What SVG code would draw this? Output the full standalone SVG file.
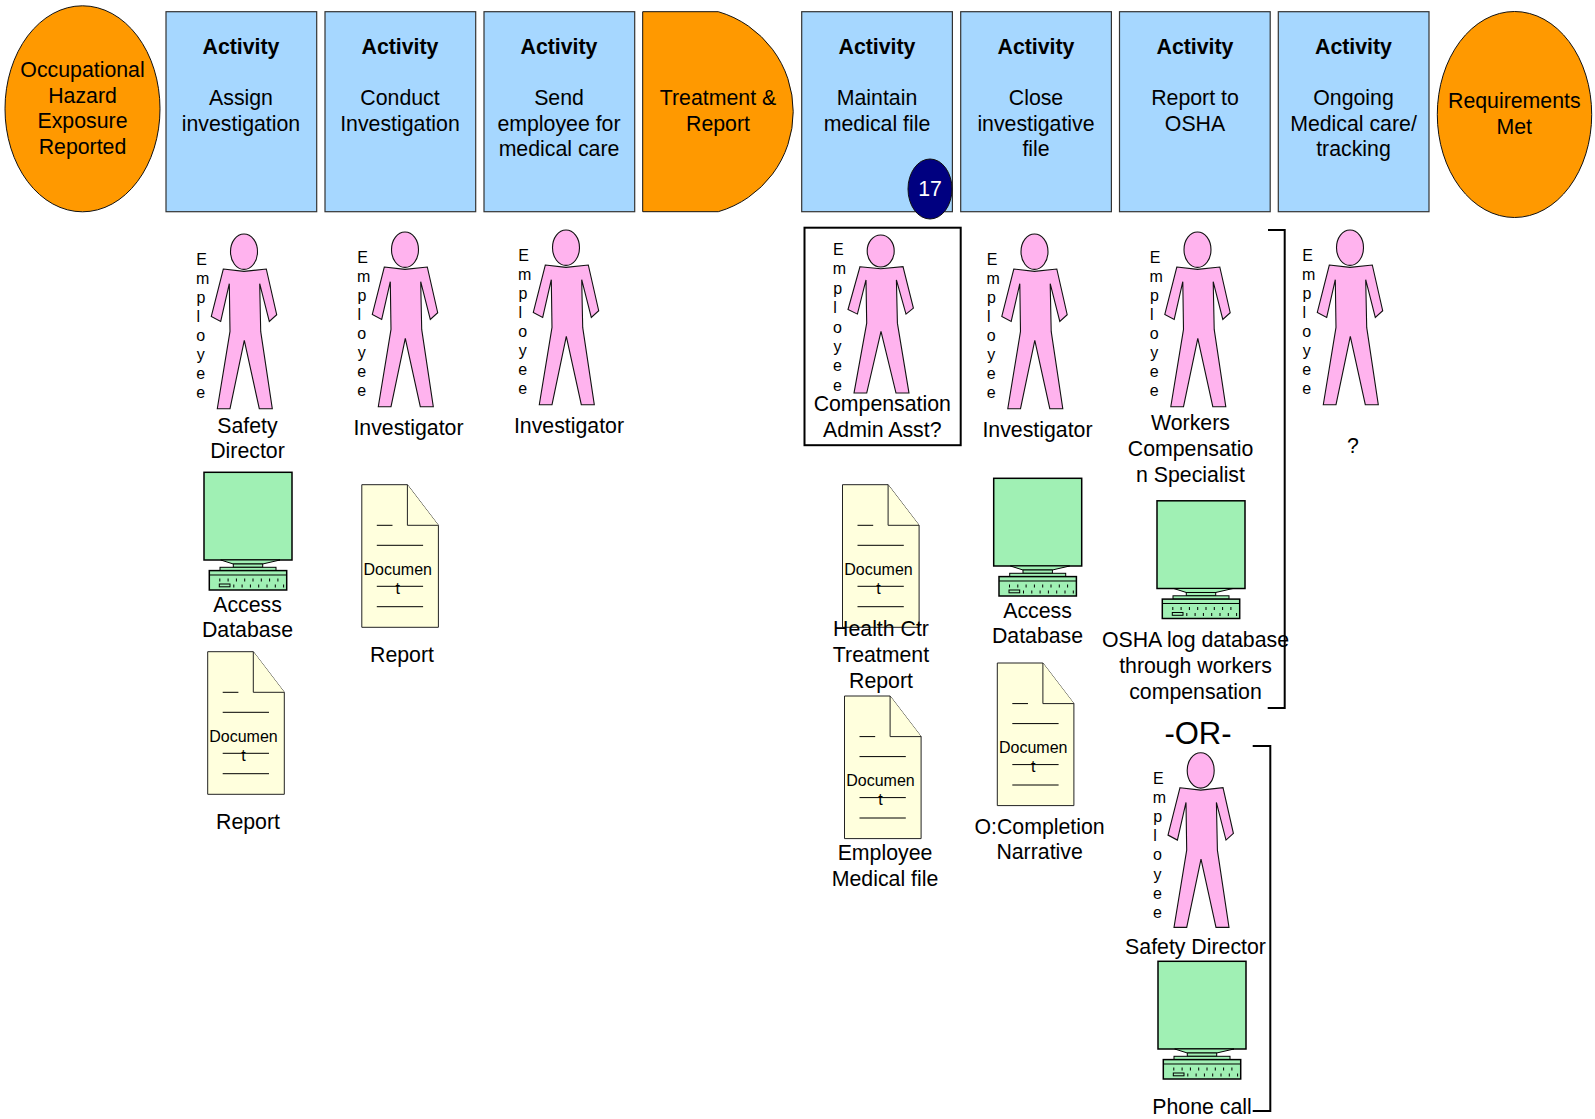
<svg xmlns="http://www.w3.org/2000/svg" xmlns:xlink="http://www.w3.org/1999/xlink" width="1595" height="1119" viewBox="0 0 1595 1119">
<style>
text{font-family:"Liberation Sans",Arial,sans-serif;font-size:21.3px;fill:#000;text-anchor:middle}
.b{font-weight:bold}
.act{fill:#A6D7FF;stroke:#333;stroke-width:1.2}
.org{fill:#FF9900;stroke:#111;stroke-width:1}
.emp{font-size:16px}
.docl{font-size:16px}
.pf{fill:#FFB3EE;stroke:#111;stroke-width:1.1}
.cf{fill:#A0F0B4;stroke:#000;stroke-width:1.5}
.cf2{fill:#A0F0B4;stroke:#000;stroke-width:1}
.df{fill:#FFFFDD;stroke:#222;stroke-width:1}
.ln{fill:none;stroke:#000;stroke-width:1}
.kb{fill:none;stroke:#000;stroke-width:3;stroke-dasharray:1 7.3}
.br{fill:none;stroke:#000;stroke-width:2}
</style>
<defs>
<g id="person">
<ellipse class="pf" cx="0" cy="0" rx="13.5" ry="17.7"/>
<path class="pf" d="M-20.7 17.3L0 19.7L22.3 17.3L32.7 63L25.3 69.7L15.7 32L16.7 79.7L28.3 157L15.3 157L0.3 88.7L-14 157L-26.7 157L-14 79.7L-14.7 32L-23.3 69.7L-32.7 64.7Z"/>
</g>
<g id="doc">
<path class="df" d="M0 0H45.6L76.6 40.6V142.6H0Z"/>
<path class="df" d="M45.6 0V40.6H76.6"/>
<path class="ln" d="M15 40.6H30.7M15 60.6H61.3M15 101.6H61.3M15 122H61.3"/>
</g>
<g id="computer">
<rect class="cf" x="0" y="0" width="88" height="87.7"/>
<path class="cf2" d="M16.7 87.7H76L58.7 91.7H29.3Z"/>
<rect class="cf2" x="29.3" y="91.7" width="29.4" height="3.3"/>
<rect class="cf2" x="16" y="95" width="56" height="3.3"/>
<rect class="cf" x="5.3" y="98.3" width="77.4" height="19.4"/>
<path class="ln" d="M5.3 102.7H82.7"/>
<path class="kb" d="M15.3 107.7H80M29.3 113.7H82"/>
<rect class="cf2" x="15.3" y="111.7" width="10.7" height="2.8"/>
</g>
</defs>

<g id="connectors">
<path class="br" d="M1268 230H1284.7V708H1267.7"/>
<path class="br" d="M1252.7 746H1270.3V1111H1252.7"/>
</g>

<g id="start"><ellipse class="org" cx="82.5" cy="108.8" rx="77.5" ry="103"/>
<text x="82.5" y="77.3">Occupational</text><text x="82.5" y="103">Hazard</text><text x="82.5" y="128.2">Exposure</text><text x="82.5" y="153.7">Reported</text></g>

<g id="act1"><rect class="act" x="166" y="11.7" width="150.7" height="200"/>
<text class="b" x="241" y="54">Activity</text><text x="241" y="105">Assign</text><text x="241" y="130.7">investigation</text></g>
<g id="act2"><rect class="act" x="325" y="11.7" width="150.7" height="200"/>
<text class="b" x="400" y="54">Activity</text><text x="400" y="105">Conduct</text><text x="400" y="130.7">Investigation</text></g>
<g id="act3"><rect class="act" x="484" y="11.7" width="150.7" height="200"/>
<text class="b" x="559" y="54">Activity</text><text x="559" y="105">Send</text><text x="559" y="130.7">employee for</text><text x="559" y="156">medical care</text></g>
<g id="treatment"><path class="org" d="M642.7 11.7H718.3A104.2 104.2 0 0 1 718.3 211.7H642.7Z"/>
<text x="718" y="105">Treatment &amp;</text><text x="718" y="130.7">Report</text></g>
<g id="act4"><rect class="act" x="801.7" y="11.7" width="150.7" height="200"/>
<text class="b" x="877" y="54">Activity</text><text x="877" y="105">Maintain</text><text x="877" y="130.7">medical file</text>
<ellipse cx="930" cy="189" rx="22" ry="30" fill="#000080" stroke="#111"/><text x="930" y="196" style="fill:#fff">17</text></g>
<g id="act5"><rect class="act" x="960.7" y="11.7" width="150.7" height="200"/>
<text class="b" x="1036" y="54">Activity</text><text x="1036" y="105">Close</text><text x="1036" y="130.7">investigative</text><text x="1036" y="156">file</text></g>
<g id="act6"><rect class="act" x="1119.5" y="11.7" width="150.7" height="200"/>
<text class="b" x="1195" y="54">Activity</text><text x="1195" y="105">Report to</text><text x="1195" y="130.7">OSHA</text></g>
<g id="act7"><rect class="act" x="1278.3" y="11.7" width="150.7" height="200"/>
<text class="b" x="1353.5" y="54">Activity</text><text x="1353.5" y="105">Ongoing</text><text x="1353.5" y="130.7">Medical care/</text><text x="1353.5" y="156">tracking</text></g>
<g id="end"><ellipse class="org" cx="1514.5" cy="114.5" rx="77.2" ry="103"/>
<text x="1514.3" y="107.7">Requirements</text><text x="1514.3" y="134">Met</text></g>

<g id="person1"><use xlink:href="#person" href="#person" x="244" y="251.7"/>
<text class="emp" y="264.7"><tspan x="201.7">E</tspan><tspan x="202.7" dy="19.1">m</tspan><tspan x="201" dy="19.1">p</tspan><tspan x="198.3" dy="19.1">l</tspan><tspan x="200.7" dy="19.1">o</tspan><tspan x="200.7" dy="19.1">y</tspan><tspan x="200.7" dy="19.1">e</tspan><tspan x="200.7" dy="19.1">e</tspan></text>
<text x="247.5" y="433">Safety</text><text x="247.5" y="458">Director</text></g>
<g id="db1"><use xlink:href="#computer" href="#computer" x="204" y="472.3"/>
<text x="247.5" y="611.5">Access</text><text x="247.5" y="637">Database</text></g>
<g id="doc1"><use xlink:href="#doc" href="#doc" x="207.7" y="651.7"/>
<text class="docl" x="243.5" y="741.5">Documen</text><text class="docl" x="243.5" y="760.5">t</text>
<text x="248" y="829">Report</text></g>

<g id="person2"><use xlink:href="#person" href="#person" x="405" y="249.7"/>
<text class="emp" y="262.7"><tspan x="362.7">E</tspan><tspan x="363.7" dy="19.1">m</tspan><tspan x="362" dy="19.1">p</tspan><tspan x="359.3" dy="19.1">l</tspan><tspan x="361.7" dy="19.1">o</tspan><tspan x="361.7" dy="19.1">y</tspan><tspan x="361.7" dy="19.1">e</tspan><tspan x="361.7" dy="19.1">e</tspan></text>
<text x="408.5" y="435">Investigator</text></g>
<g id="doc2"><use xlink:href="#doc" href="#doc" x="361.8" y="484.7"/>
<text class="docl" x="397.7" y="574.5">Documen</text><text class="docl" x="397.7" y="593.5">t</text>
<text x="402" y="662">Report</text></g>

<g id="person3"><use xlink:href="#person" href="#person" x="566" y="247.7"/>
<text class="emp" y="260.7"><tspan x="523.7">E</tspan><tspan x="524.7" dy="19.1">m</tspan><tspan x="523" dy="19.1">p</tspan><tspan x="520.3" dy="19.1">l</tspan><tspan x="522.7" dy="19.1">o</tspan><tspan x="522.7" dy="19.1">y</tspan><tspan x="522.7" dy="19.1">e</tspan><tspan x="522.7" dy="19.1">e</tspan></text>
<text x="569" y="433">Investigator</text></g>

<g id="person4"><rect x="804.5" y="227.7" width="156.2" height="217.5" fill="none" stroke="#000" stroke-width="2"/>
<use xlink:href="#person" href="#person" transform="translate(880.7 251) scale(1 0.905)"/>
<text class="emp" y="255"><tspan x="838.4">E</tspan><tspan x="839.4" dy="19.4">m</tspan><tspan x="837.7" dy="19.4">p</tspan><tspan x="835" dy="19.4">l</tspan><tspan x="837.4" dy="19.4">o</tspan><tspan x="837.4" dy="19.4">y</tspan><tspan x="837.4" dy="19.4">e</tspan><tspan x="837.4" dy="19.4">e</tspan></text>
<text x="882.3" y="411">Compensation</text><text x="882.3" y="437">Admin Asst?</text></g>
<g id="doc3"><use xlink:href="#doc" href="#doc" x="842.5" y="484.7"/>
<text class="docl" x="878.5" y="574.5">Documen</text><text class="docl" x="878.5" y="593.5">t</text>
<text x="881" y="636">Health Ctr</text><text x="881" y="662">Treatment</text><text x="881" y="688">Report</text></g>
<g id="doc4"><use xlink:href="#doc" href="#doc" x="844.5" y="696"/>
<text class="docl" x="880.5" y="785.8">Documen</text><text class="docl" x="880.5" y="805">t</text>
<text x="885" y="860">Employee</text><text x="885" y="886">Medical file</text></g>

<g id="person5"><use xlink:href="#person" href="#person" x="1034.5" y="251.7"/>
<text class="emp" y="264.7"><tspan x="992.2">E</tspan><tspan x="993.2" dy="19.1">m</tspan><tspan x="991.5" dy="19.1">p</tspan><tspan x="988.8" dy="19.1">l</tspan><tspan x="991.2" dy="19.1">o</tspan><tspan x="991.2" dy="19.1">y</tspan><tspan x="991.2" dy="19.1">e</tspan><tspan x="991.2" dy="19.1">e</tspan></text>
<text x="1037.5" y="437">Investigator</text></g>
<g id="db2"><use xlink:href="#computer" href="#computer" x="993.7" y="478.3"/>
<text x="1037.5" y="617.5">Access</text><text x="1037.5" y="643">Database</text></g>
<g id="doc5"><use xlink:href="#doc" href="#doc" x="997.3" y="663"/>
<text class="docl" x="1033.2" y="752.8">Documen</text><text class="docl" x="1033.2" y="772">t</text>
<text x="1039.6" y="834">O:Completion</text><text x="1039.6" y="859">Narrative</text></g>

<g id="person6"><use xlink:href="#person" href="#person" x="1197.5" y="249.7"/>
<text class="emp" y="262.7"><tspan x="1155.2">E</tspan><tspan x="1156.2" dy="19.1">m</tspan><tspan x="1154.5" dy="19.1">p</tspan><tspan x="1151.8" dy="19.1">l</tspan><tspan x="1154.2" dy="19.1">o</tspan><tspan x="1154.2" dy="19.1">y</tspan><tspan x="1154.2" dy="19.1">e</tspan><tspan x="1154.2" dy="19.1">e</tspan></text>
<text x="1190.5" y="430">Workers</text><text x="1190.5" y="456">Compensatio</text><text x="1190.5" y="482">n Specialist</text></g>
<g id="db3"><use xlink:href="#computer" href="#computer" x="1157" y="500.8"/>
<text x="1195.5" y="647">OSHA log database</text><text x="1195.5" y="673">through workers</text><text x="1195.5" y="699">compensation</text></g>

<g id="person7"><use xlink:href="#person" href="#person" x="1350" y="247.7"/>
<text class="emp" y="260.7"><tspan x="1307.7">E</tspan><tspan x="1308.7" dy="19.1">m</tspan><tspan x="1307" dy="19.1">p</tspan><tspan x="1304.3" dy="19.1">l</tspan><tspan x="1306.7" dy="19.1">o</tspan><tspan x="1306.7" dy="19.1">y</tspan><tspan x="1306.7" dy="19.1">e</tspan><tspan x="1306.7" dy="19.1">e</tspan></text>
<text x="1353" y="453">?</text></g>

<g id="or"><text x="1198" y="743.5" style="font-size:31px">-OR-</text></g>
<g id="person8"><use xlink:href="#person" href="#person" x="1200.7" y="770.4"/>
<text class="emp" y="784"><tspan x="1158.4">E</tspan><tspan x="1159.4" dy="19.1">m</tspan><tspan x="1157.7" dy="19.1">p</tspan><tspan x="1155" dy="19.1">l</tspan><tspan x="1157.4" dy="19.1">o</tspan><tspan x="1157.4" dy="19.1">y</tspan><tspan x="1157.4" dy="19.1">e</tspan><tspan x="1157.4" dy="19.1">e</tspan></text>
<text x="1195.5" y="953.5">Safety Director</text></g>
<g id="db4"><use xlink:href="#computer" href="#computer" x="1158" y="961.3"/>
<text x="1202" y="1114">Phone call</text></g>
</svg>
